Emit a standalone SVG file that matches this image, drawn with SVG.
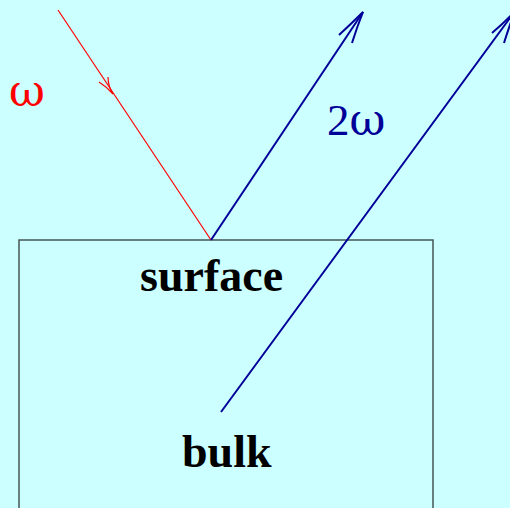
<svg xmlns="http://www.w3.org/2000/svg" width="510" height="508" viewBox="0 0 510 508">
<style>
.bg{fill:#ccffff}
.box{fill:none;stroke:#445555;stroke-width:1.5}
.lbl{font-family:"Liberation Serif","Times New Roman",serif;font-size:45px}
.om{font-family:"DejaVu Serif",serif;font-size:44px}
.b{font-weight:bold;fill:#000;font-size:46px}
.red{stroke:#ff0000;stroke-width:1.2;fill:none}
.blue{stroke:#000099;stroke-width:2;fill:none}
</style>
<rect class="bg" x="0" y="0" width="510" height="508"/>
<g id="medium">
<rect class="box" x="19" y="240" width="414" height="290"/>
</g>
<g id="surface"><text class="lbl b" x="140" y="291">surface</text></g>
<g id="bulk"><text class="lbl b" x="182" y="467">bulk</text></g>
<g id="omega"><text class="om" x="9" y="106" fill="#ff0000">ω</text></g>
<g id="two-omega"><text class="lbl" x="327" y="135" fill="#000099">2<tspan class="om">ω</tspan></text></g>
<g id="connectors">
<path class="red" d="M58,10 L211,240"/>
<path class="red" stroke-width="1.6" d="M99,82 Q107,87 113,94 Q108,86 108,77"/>
<path class="blue" d="M211,240 L363,12"/>
<path class="blue" d="M339,35 Q353,22 363,12 Q357,27 352,43"/>
<path class="blue" d="M221,412 L515,11"/>
<path class="blue" d="M492,33 Q506,21 515,11 Q509,27 504,43"/>
</g>
</svg>
